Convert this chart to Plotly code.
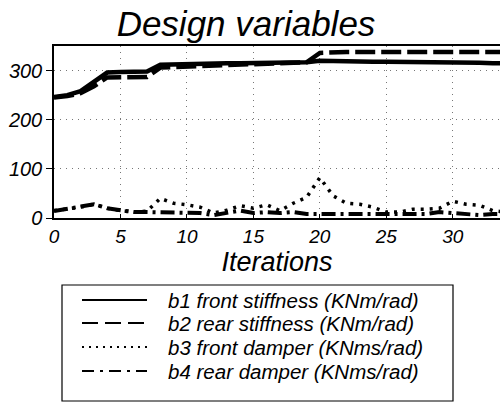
import plotly.graph_objects as go

iters = list(range(35))
b1 = [246, 250, 258, 277, 296, 297, 297, 298, 312, 313, 313, 314, 314, 315, 315, 315, 315, 316, 316, 317,
      320, 319, 319, 318, 318, 318, 318, 317, 317, 317, 316, 316, 316, 315, 315]
b2 = [245, 248, 254, 268, 286, 287, 287, 287, 306, 307, 308, 308, 309, 309, 310, 311, 314, 315, 316, 317,
      336, 338, 338, 338, 338, 338, 338, 338, 338, 338, 338, 338, 338, 338, 338]
b3 = [15, 18, 22, 28, 20, 15, 12, 14, 40, 30, 27, 22, 10, 16, 25, 20, 27, 15, 30, 42,
      82, 45, 30, 28, 22, 12, 12, 18, 18, 20, 34, 28, 26, 15, 12]
b4 = [14, 18, 24, 28, 20, 17, 12, 12, 12, 12, 12, 10, 6, 10, 15, 10, 12, 10, 12, 8,
      8, 8, 8, 8, 8, 8, 8, 10, 8, 12, 10, 8, 6, 8, 8]

names = ["b1 front stiffness (KNm/rad)", "b2 rear stiffness (KNm/rad)",
         "b3 front damper (KNms/rad)", "b4 rear damper (KNms/rad)"]
series = [b1, b2, b3, b4]
plot_dash = ["solid", "20px,6px", "3px,6px", "14px,5px,3px,5px"]
plot_width = [4.5, 4.5, 3.5, 4]
leg_dash = ["solid", "16px,7px", "2px,5px", "12px,6px,3px,6px"]

x_ticks = [0, 5, 10, 15, 20, 25, 30]
y_ticks = [0, 100, 200, 300]

FONT = "Liberation Sans, Arial, sans-serif"

fig = go.Figure()
for s, n, d, w in zip(series, names, plot_dash, plot_width):
    fig.add_trace(go.Scatter(x=iters, y=s, mode="lines", name=n,
                             line=dict(color="black", width=w, dash=d),
                             showlegend=False, hoverinfo="skip"))

W, H = 500, 404
L, T, B_px = 54, 46, 218
pw = W - L
ph = B_px - T

def px(xp):
    return (xp - L) / pw

def py(yp):
    return (B_px - yp) / ph

shapes = []
annotations = []
# legend box
shapes.append(dict(type="rect", xref="paper", yref="paper",
                   x0=px(62), x1=px(453), y0=py(401), y1=py(285),
                   line=dict(color="black", width=1.2), fillcolor="white"))
rows = [300, 323, 347, 371]
for r, n, d in zip(rows, names, leg_dash):
    shapes.append(dict(type="line", xref="paper", yref="paper",
                       x0=px(82), x1=px(147), y0=py(r), y1=py(r),
                       line=dict(color="black", width=2, dash=d)))
    annotations.append(dict(xref="paper", yref="paper", x=px(166), y=py(r),
                            xanchor="left", yanchor="middle", showarrow=False,
                            text=n, font=dict(size=20.5, family=FONT, style="italic", color="black")))

fig.update_layout(
    width=W, height=H,
    margin=dict(l=L, r=0, t=T, b=H - B_px, autoexpand=False),
    paper_bgcolor="white", plot_bgcolor="white",
    font=dict(family=FONT, color="black", style="italic"),
    title=dict(text="Design variables", x=246 / W, xanchor="center",
               y=1 - 24 / H, yanchor="middle",
               font=dict(size=35, family=FONT, style="italic", color="black")),
    xaxis=dict(range=[0, 33.55], tickvals=x_ticks, ticktext=[str(v) for v in x_ticks],
               showgrid=True, gridcolor="#777777", griddash="1px,5px", gridwidth=1,
               showline=True, linecolor="black", linewidth=1.5, mirror=True,
               ticks="inside", ticklen=4, tickcolor="black",
               tickfont=dict(size=19, family=FONT, style="italic"),
               title=dict(text="Iterations", standoff=4,
                          font=dict(size=27, family=FONT, style="italic")),
               zeroline=False),
    yaxis=dict(range=[0, 350], tickvals=y_ticks, ticktext=[str(v) for v in y_ticks],
               showgrid=True, gridcolor="#777777", griddash="1px,5px", gridwidth=1,
               showline=True, linecolor="black", linewidth=1.5, mirror=True,
               ticks="outside", ticklen=6, tickcolor="black",
               tickfont=dict(size=20, family=FONT, style="italic"),
               zeroline=False),
    shapes=shapes,
    annotations=annotations,
    hovermode=False,
)

fig.write_html("out.html", config={"displayModeBar": False},
               post_script="document.body.style.margin='0';")
